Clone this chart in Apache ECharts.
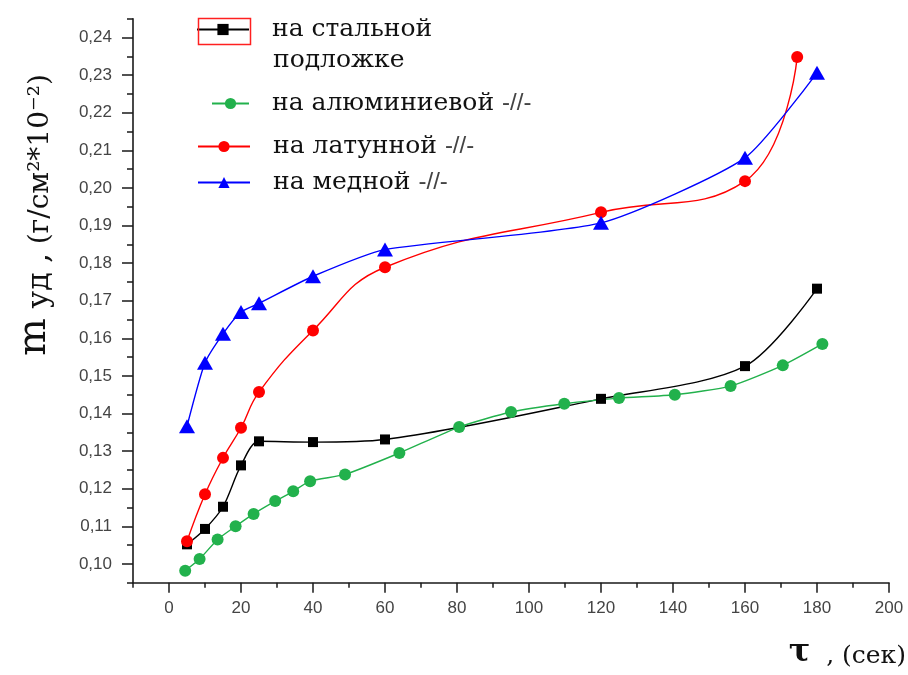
<!DOCTYPE html>
<html>
<head>
<meta charset="utf-8">
<script src="https://cdn.jsdelivr.net/npm/echarts@6/dist/echarts.min.js"></script>
<style>
html,body{margin:0;padding:0;background:#fff;}
#chart{width:908px;height:675px;}
</style>
</head>
<body>
<div id="chart"></div>
<script>
// ---- data ----
var steelName = 'на стальной';
var aluName = 'на алюминиевой';
var brassName = 'на латунной';
var copperName = 'на медной';

var steelX = [5, 10, 15, 20, 25, 40, 60, 120, 160, 180];
var steelY = [0.1052, 0.1093, 0.1152, 0.1262, 0.1326, 0.1324, 0.1331, 0.1439, 0.1526, 0.1732];

var aluX = [4.5, 8.5, 13.5, 18.5, 23.5, 29.5, 34.5, 39.2, 48.9, 64, 80.6, 95, 109.8, 125, 140.5, 156, 170.5, 181.5];
var aluY = [0.0982, 0.1013, 0.1065, 0.1100, 0.1133, 0.1167, 0.1193, 0.1220, 0.1238, 0.1295, 0.1364, 0.1404, 0.1426, 0.1441, 0.1450, 0.1473, 0.1528, 0.1585];

var brassX = [5, 10, 15, 20, 25, 40, 60, 120, 160, 174.5];
var brassY = [0.1060, 0.1185, 0.1282, 0.1362, 0.1457, 0.1621, 0.1789, 0.1935, 0.2018, 0.2348];

var copperX = [5, 10, 15, 20, 25, 40, 60, 120, 160, 180];
var copperY = [0.1366, 0.1535, 0.1612, 0.1670, 0.1693, 0.1765, 0.1836, 0.1907, 0.2080, 0.2306];

var xTickLabels = [0, 20, 40, 60, 80, 100, 120, 140, 160, 180, 200];
var xMinorTicks = [-10, 10, 30, 50, 70, 90, 110, 130, 150, 170, 190];
var yTickLabels = [0.10, 0.11, 0.12, 0.13, 0.14, 0.15, 0.16, 0.17, 0.18, 0.19, 0.20, 0.21, 0.22, 0.23, 0.24];
var yMinorTicks = [0.095, 0.105, 0.115, 0.125, 0.135, 0.145, 0.155, 0.165, 0.175, 0.185, 0.195, 0.205, 0.215, 0.225, 0.235, 0.245];

function pairs(xs, ys) { return xs.map(function (x, i) { return [x, ys[i]]; }); }

var chart = echarts.init(document.getElementById('chart'), null, {renderer: 'canvas'});

var axisColor = '#1a1a1a';
var serif = 'DejaVu Serif';
var legendRich = {
  a: {fontFamily: serif, fontSize: 25, color: '#111', padding: [0, 0, 0, 18], lineHeight: 28},
  b: {fontFamily: 'Liberation Sans', fontSize: 24, color: '#444', lineHeight: 28, padding: [0, 0, 0, 8]}
};
function legendAt(name, left, top, itemWidth, withSuffix) {
  return {
    data: [name], left: left, top: top, padding: 0, itemWidth: itemWidth, itemHeight: 14,
    selectedMode: false, orient: 'horizontal',
    formatter: function (n) { return withSuffix ? '{a|' + n + '}{b|-//-}' : '{a|' + n + '}'; },
    textStyle: {rich: legendRich}
  };
}

var option = {
  backgroundColor: '#ffffff',
  animation: false,
  grid: {left: 133, right: 19, top: 18.7, bottom: 92.3, containLabel: false},
  legend: [
    legendAt(steelName, 196, 17, 52, false),
    legendAt(aluName, 211, 91, 37, true),
    legendAt(brassName, 197, 134, 52, true),
    legendAt(copperName, 197, 170, 52, true)
  ],
  xAxis: [{
    type: 'value', min: -10, max: 200, position: 'bottom',
    axisLine: {show: true, onZero: false, lineStyle: {color: axisColor, width: 1.6}},
    axisTick: {show: true, customValues: xTickLabels, length: 10, lineStyle: {color: axisColor, width: 1.5}},
    axisLabel: {customValues: xTickLabels, margin: 17, fontFamily: 'Liberation Sans', fontSize: 17, color: '#444'},
    splitLine: {show: false}
  }, {
    type: 'value', min: -10, max: 200, position: 'bottom', gridIndex: 0,
    axisLine: {show: false, onZero: false},
    axisTick: {show: true, customValues: xMinorTicks, length: 5, lineStyle: {color: axisColor, width: 1.5}},
    axisLabel: {show: false},
    splitLine: {show: false}
  }],
  yAxis: [{
    type: 'value', min: 0.095, max: 0.245, position: 'left',
    axisLine: {show: true, onZero: false, lineStyle: {color: axisColor, width: 1.6}},
    axisTick: {show: true, customValues: yTickLabels, length: 11, lineStyle: {color: axisColor, width: 1.5}},
    axisLabel: {customValues: yTickLabels, margin: 21, fontFamily: 'Liberation Sans', fontSize: 17, color: '#444',
      formatter: function (v) { return v.toFixed(2).replace('.', ','); }},
    splitLine: {show: false}
  }, {
    type: 'value', min: 0.095, max: 0.245, position: 'left', gridIndex: 0,
    axisLine: {show: false, onZero: false},
    axisTick: {show: true, customValues: yMinorTicks, length: 6, lineStyle: {color: axisColor, width: 1.5}},
    axisLabel: {show: false},
    splitLine: {show: false}
  }],
  series: [
    {name: steelName, type: 'line', data: pairs(steelX, steelY), smooth: 0.3,
     symbol: 'rect', symbolSize: 10, itemStyle: {color: '#000000'}, lineStyle: {color: '#000000', width: 1.4}},
    {name: aluName, type: 'line', data: pairs(aluX, aluY), smooth: 0.2,
     symbol: 'circle', symbolSize: 12, itemStyle: {color: '#22b14c'}, lineStyle: {color: '#22b14c', width: 1.4}},
    {name: brassName, type: 'line', data: pairs(brassX, brassY), smooth: 0.45,
     symbol: 'circle', symbolSize: 12, itemStyle: {color: '#ff0000'}, lineStyle: {color: '#ff0000', width: 1.4}},
    {name: copperName, type: 'line', data: pairs(copperX, copperY), smooth: 0.2,
     symbol: 'triangle', symbolSize: [16, 14], itemStyle: {color: '#0000ff'}, lineStyle: {color: '#0000ff', width: 1.4}}
  ],
  graphic: [
    {type: 'rect', left: 196, top: 16, shape: {x: 0, y: 0, width: 52, height: 26},
     style: {fill: 'none', stroke: '#ff2020', lineWidth: 1.5}, z: 100},
    {type: 'text', left: 273, top: 48, style: {text: 'подложке', fontFamily: serif, fontSize: 25, fill: '#111'}},
    {type: 'text', x: 32, y: 215, rotation: Math.PI / 2,
     style: {
       text: '{m|m}{u| уд ,}{t| (г/см²*10⁻²)}',
       align: 'center', verticalAlign: 'middle',
       rich: {
         m: {fontFamily: serif, fontSize: 40, lineHeight: 46, verticalAlign: 'bottom', fill: '#111'},
         u: {fontFamily: serif, fontSize: 30, lineHeight: 35, verticalAlign: 'bottom', fill: '#111'},
         t: {fontFamily: serif, fontSize: 28, lineHeight: 33, verticalAlign: 'bottom', fill: '#111'}
       }
     }},
    {type: 'text', x: 906, y: 669,
     style: {
       text: '{g|τ}{t|  , (сек)}',
       align: 'right', verticalAlign: 'bottom',
       rich: {
         g: {fontFamily: serif, fontSize: 32, lineHeight: 36, verticalAlign: 'bottom', fill: '#111', fontWeight: 'bold'},
         t: {fontFamily: serif, fontSize: 25, lineHeight: 30, verticalAlign: 'bottom', fill: '#111'}
       }
     }}
  ]
};
chart.setOption(option);
</script>
</body>
</html>
